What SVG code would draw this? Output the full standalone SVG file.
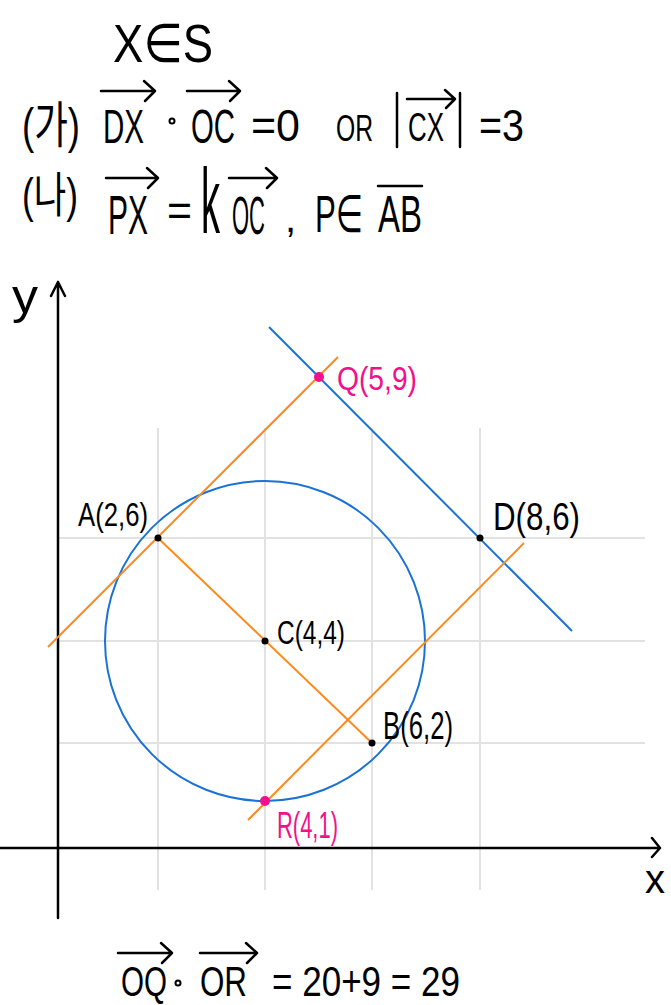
<svg xmlns="http://www.w3.org/2000/svg" width="671" height="1005" viewBox="0 0 671 1005">
<style>
.t{font-family:"Liberation Sans","DejaVu Sans",sans-serif;fill:#000;}
.k{font-family:"Liberation Sans","Noto Sans CJK KR",sans-serif;fill:#000;}
.m{fill:#f2108c;}
.grid{stroke:#e2e2e2;stroke-width:2;fill:none;}
.ax{stroke:#000;stroke-width:2.5;fill:none;stroke-linecap:round;stroke-linejoin:round;}
.vec{stroke:#000;stroke-width:2.5;fill:none;stroke-linecap:round;stroke-linejoin:round;}
.blue{stroke:#1a72d6;stroke-width:2;fill:none;}
.orange{stroke:#ff8a1c;stroke-width:2;fill:none;}
.pt{fill:#000;}
.mp{fill:#f2108c;}
</style>
<rect width="671" height="1005" fill="#fff"/>
<g id="formulas">
<text class="t" x="113" y="62" font-size="54" textLength="100" lengthAdjust="spacingAndGlyphs">X∈S</text>
<text class="k" x="22" y="143" font-size="50" textLength="58" lengthAdjust="spacingAndGlyphs">(가)</text>
<text class="t" x="103" y="143" font-size="48" textLength="41" lengthAdjust="spacingAndGlyphs">DX</text>
<path class="vec" d="M101 91 H155 M144 81 L155 91 L145 101"/>
<circle cx="172" cy="121" r="2.5" fill="none" stroke="#000" stroke-width="2"/>
<text class="t" x="191" y="143" font-size="48" textLength="44" lengthAdjust="spacingAndGlyphs">OC</text>
<path class="vec" d="M187 91 H240 M229 81 L240 91 L230 101"/>
<text class="t" x="251" y="141" font-size="44" textLength="49" lengthAdjust="spacingAndGlyphs">=0</text>
<text class="t" x="336" y="141" font-size="36" textLength="37" lengthAdjust="spacingAndGlyphs">OR</text>
<path class="vec" d="M397 93 V147 M460 93 V147"/>
<text class="t" x="408" y="141" font-size="40" textLength="36" lengthAdjust="spacingAndGlyphs">CX</text>
<path class="vec" d="M407 99 H455 M445 90 L455 99 L446 108"/>
<text class="t" x="479" y="141" font-size="44" textLength="45" lengthAdjust="spacingAndGlyphs">=3</text>
<text class="k" x="22" y="212" font-size="48" textLength="56" lengthAdjust="spacingAndGlyphs">(나)</text>
<text class="t" x="108" y="234" font-size="56" textLength="40" lengthAdjust="spacingAndGlyphs">PX</text>
<path class="vec" d="M106 178 H158 M147 168 L158 178 L148 188"/>
<text class="t" x="167" y="226" font-size="44" textLength="25" lengthAdjust="spacingAndGlyphs">=</text>
<text class="t" x="201" y="233" font-size="92" textLength="19" lengthAdjust="spacingAndGlyphs">k</text>
<text class="t" x="232" y="234" font-size="54" textLength="33" lengthAdjust="spacingAndGlyphs">OC</text>
<path class="vec" d="M229 178 H277 M266 168 L277 178 L267 188"/>
<text class="t" x="285" y="232" font-size="40">,</text>
<text class="t" x="315" y="232" font-size="52" textLength="48" lengthAdjust="spacingAndGlyphs">P∈</text>
<text class="t" x="378" y="232" font-size="52" textLength="44" lengthAdjust="spacingAndGlyphs">AB</text>
<path class="vec" d="M378 186 H422"/>
</g>
<g id="grid">
<path class="grid" d="M158 428 V890 M265 428 V890 M372 428 V890 M480 428 V890 M58 538 H645 M58 641 H645 M58 743 H645"/>
</g>
<g id="axes">
<path class="ax" d="M58 282 V918 M51 296 L58 282 L65 296"/>
<path class="ax" d="M0 848 H660 M652 838 L660 848 L652 857"/>
<text class="t" x="12" y="313" font-size="48" textLength="26" lengthAdjust="spacingAndGlyphs">y</text>
<text class="t" x="645" y="893" font-size="40" textLength="20" lengthAdjust="spacingAndGlyphs">x</text>
</g>
<g id="connectors">
<circle class="blue" cx="265" cy="641" r="160"/>
<line class="blue" x1="269" y1="327" x2="572" y2="631"/>
<line class="orange" x1="48" y1="647" x2="338" y2="357"/>
<line class="orange" x1="158" y1="538" x2="372" y2="743"/>
<line class="orange" x1="248" y1="820" x2="524" y2="543"/>
</g>
<g id="node-A">
<circle class="pt" cx="158" cy="538" r="3.5"/>
<text class="t" x="78" y="526" font-size="34" textLength="70" lengthAdjust="spacingAndGlyphs">A(2,6)</text>
</g>
<g id="node-D">
<circle class="pt" cx="480" cy="538" r="3.5"/>
<text class="t" x="493" y="530" font-size="38" textLength="87" lengthAdjust="spacingAndGlyphs">D(8,6)</text>
</g>
<g id="node-C">
<circle class="pt" cx="265" cy="641" r="3.5"/>
<text class="t" x="277" y="644" font-size="34" textLength="68" lengthAdjust="spacingAndGlyphs">C(4,4)</text>
</g>
<g id="node-B">
<circle class="pt" cx="372" cy="743" r="3.5"/>
<text class="t" x="383" y="739" font-size="38" textLength="70" lengthAdjust="spacingAndGlyphs">B(6,2)</text>
</g>
<g id="node-Q">
<circle class="mp" cx="319" cy="377" r="5"/>
<text class="t m" x="337" y="390" font-size="34" textLength="80" lengthAdjust="spacingAndGlyphs">Q(5,9)</text>
</g>
<g id="node-R">
<circle class="mp" cx="265" cy="801" r="5"/>
<text class="t m" x="277" y="838" font-size="36" textLength="61" lengthAdjust="spacingAndGlyphs">R(4,1)</text>
</g>
<g id="result">
<text class="t" x="121" y="996" font-size="42" textLength="46" lengthAdjust="spacingAndGlyphs">OQ</text>
<path class="vec" d="M118 953 H172 M161 943 L172 953 L162 963"/>
<circle cx="178" cy="983" r="2.5" fill="none" stroke="#000" stroke-width="2"/>
<text class="t" x="200" y="996" font-size="42" textLength="47" lengthAdjust="spacingAndGlyphs">OR</text>
<path class="vec" d="M200 953 H257 M246 943 L257 953 L247 963"/>
<text class="t" x="272" y="996" font-size="42" textLength="188" lengthAdjust="spacingAndGlyphs">= 20+9 = 29</text>
</g>
</svg>
